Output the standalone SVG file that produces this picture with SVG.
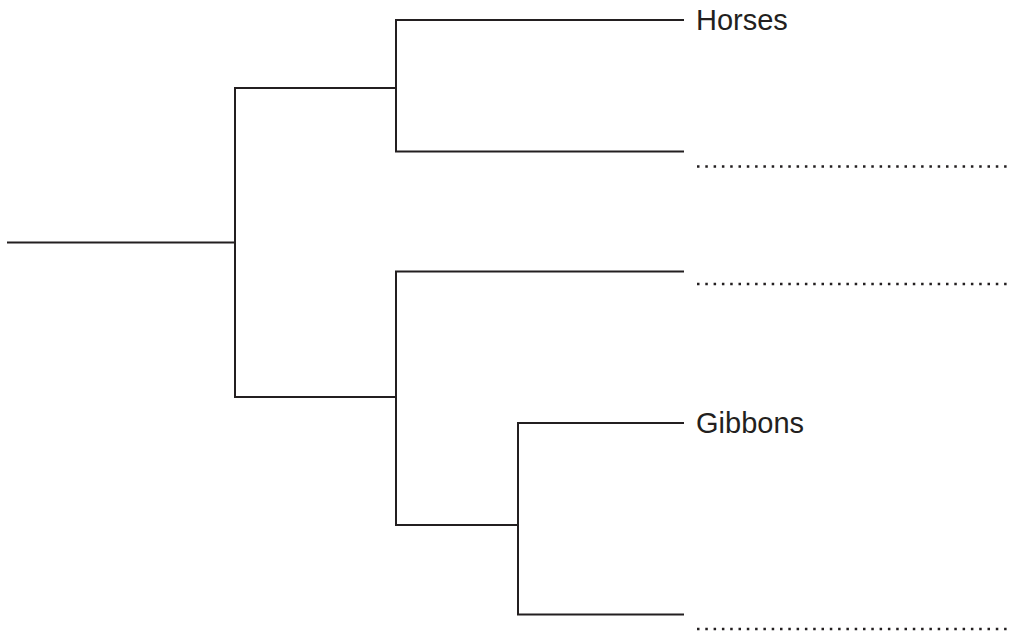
<svg xmlns="http://www.w3.org/2000/svg" width="1009" height="634" viewBox="0 0 1009 634">
<style>
.br{fill:none;stroke:#231f20;stroke-width:2;stroke-linecap:square;stroke-linejoin:miter}
.dot{fill:none;stroke:#231f20;stroke-width:2.5;stroke-dasharray:2.5 5.8}
.lbl{font-family:"Liberation Sans",Arial,sans-serif;font-size:29px;fill:#231f20}
</style>
<rect width="1009" height="634" fill="#ffffff"/>
<g id="connectors">
<path class="br" d="M8 242.5H235M235 88V397M235 88H396M235 397H396"/>
<path class="br" d="M396 20V151.5M396 20H683M396 151.5H683"/>
<path class="br" d="M396 271.5V525M396 271.5H683M396 525H518"/>
<path class="br" d="M518 423V614.5M518 423H683M518 614.5H683"/>
</g>
<g id="leaf-horses"><text class="lbl" x="696" y="29.5">Horses</text></g>
<g id="leaf-blank1"><line class="dot" x1="697" y1="166.5" x2="1009" y2="166.5"/></g>
<g id="leaf-blank2"><line class="dot" x1="697" y1="284" x2="1009" y2="284"/></g>
<g id="leaf-gibbons"><text class="lbl" x="696" y="433">Gibbons</text></g>
<g id="leaf-blank3"><line class="dot" x1="697" y1="629" x2="1009" y2="629"/></g>
</svg>
